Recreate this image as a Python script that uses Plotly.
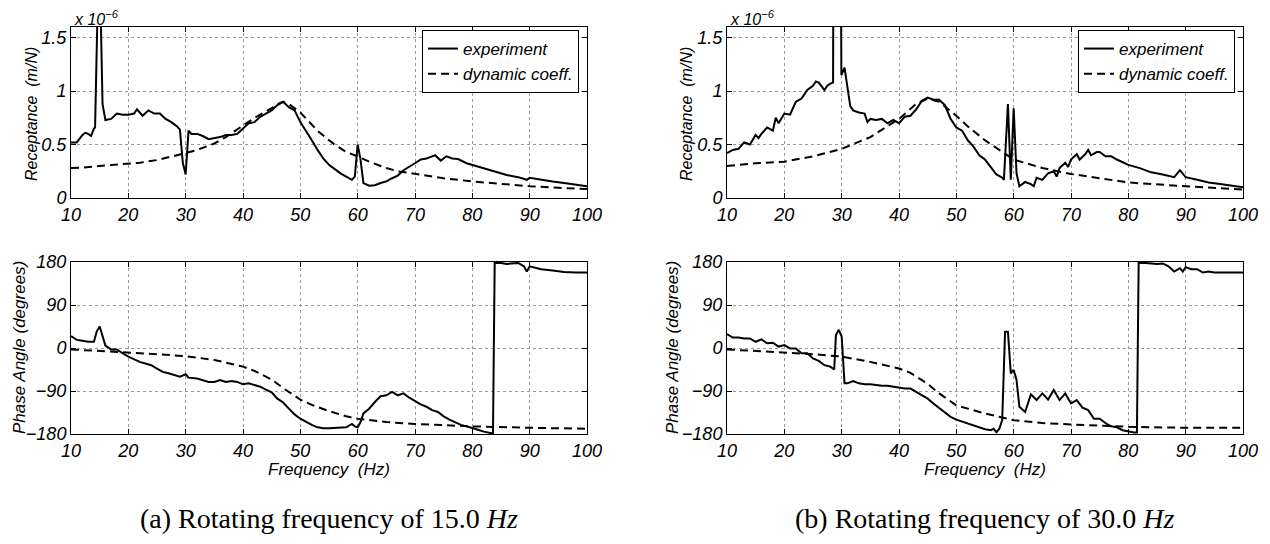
import plotly.graph_objects as go

# ---------------- (a) rotating frequency 15 Hz ----------------
fa_rec_exp = [10, 11, 12, 12.5, 13, 13.5, 14, 14.2, 14.8, 15.0, 15.5, 16, 17, 18, 19, 20, 21, 21.5, 22.5, 23.5,
              24.5, 25.5, 26.5, 27.5, 28.5, 29, 29.5, 30, 30.5, 31, 32, 33, 34, 35, 36, 37, 38, 39, 40, 41,
              42, 43, 44, 45, 46, 47, 48, 49, 50, 51, 52, 53, 54, 55, 57, 58, 59, 59.5, 60, 60.5,
              61, 62, 63, 64, 65, 66, 67, 68, 69, 70, 71, 72, 73, 73.5, 74.5, 75.5, 76.5, 77.5, 79, 80,
              82, 84, 86, 88, 89.5, 90, 92, 94, 96, 98, 100]
rec_a_exp = [0.52, 0.52, 0.59, 0.61, 0.60, 0.58, 0.65, 0.66, 2.2, 2.2, 0.88, 0.73, 0.74, 0.79, 0.78, 0.78, 0.79, 0.83, 0.77, 0.82,
             0.79, 0.79, 0.74, 0.71, 0.67, 0.64, 0.33, 0.22, 0.63, 0.60, 0.60, 0.58, 0.55, 0.56, 0.57, 0.59, 0.59, 0.60, 0.65, 0.70,
             0.71, 0.76, 0.79, 0.82, 0.87, 0.90, 0.85, 0.82, 0.71, 0.63, 0.54, 0.45, 0.37, 0.31, 0.23, 0.20, 0.17, 0.20, 0.50, 0.36,
             0.14, 0.115, 0.12, 0.14, 0.155, 0.185, 0.21, 0.26, 0.29, 0.325, 0.36, 0.37, 0.39, 0.40, 0.35, 0.39, 0.37, 0.365, 0.325, 0.31,
             0.28, 0.25, 0.215, 0.195, 0.17, 0.19, 0.17, 0.155, 0.14, 0.125, 0.11]

fa_rec_dyn = [10, 12, 15, 18, 20, 22, 25, 27, 30, 32, 35, 37, 40, 42, 45, 46, 47, 48, 50, 52, 53, 55, 56, 58,
              60, 62, 65, 67, 70, 75, 80, 85, 90, 95, 100]
rec_a_dyn = [0.28, 0.285, 0.30, 0.315, 0.325, 0.33, 0.355, 0.38, 0.42, 0.45, 0.51, 0.57, 0.68, 0.75, 0.84, 0.88, 0.90, 0.88,
             0.80, 0.68, 0.63, 0.54, 0.50, 0.43, 0.39, 0.34, 0.28, 0.25, 0.225, 0.185, 0.155, 0.13, 0.11, 0.095, 0.085]

fa_ph_exp = [10, 11, 12, 13, 14, 14.5, 15, 15.5, 16, 17, 18, 19, 20, 22, 24, 25, 26, 27, 28, 29,
             30, 30.5, 32, 33, 34, 35, 36, 37, 38, 39, 40, 41, 42, 43, 44, 45, 46, 47, 48, 49,
             50, 51, 52, 53, 54, 55, 57, 58, 59, 59.5, 60, 60.5, 61, 62, 63, 64, 65, 66, 67, 68,
             69, 70, 71, 72, 73, 74, 75, 76, 77, 78, 79, 80, 81, 82, 83, 83.6, 83.9, 85, 86, 88,
             89, 89.5, 90, 92, 94, 96, 98, 100]
ph_a_exp = [25, 17, 15, 13, 13, 35, 45, 25, 5, -3, -3, -11, -18, -29, -36, -43, -50, -53, -57, -60,
            -55, -62, -64, -67, -71, -71, -67, -71, -69, -71, -76, -74, -78, -81, -87, -93, -106, -114, -127, -139,
            -148, -155, -161, -166, -168, -168, -167, -166, -159, -164, -166, -155, -137, -127, -113, -101, -99, -92, -99, -95,
            -104, -111, -118, -123, -130, -134, -143, -150, -155, -161, -164, -167, -171, -175, -178, -179, 178, 178, 176, 178,
            171, 160, 171, 165, 162, 159, 158, 158]

fa_ph_dyn = [10, 15, 20, 25, 30, 35, 40, 42, 45, 47, 50, 52, 55, 58, 60, 65, 70, 80, 90, 100]
ph_a_dyn = [-3, -6, -10, -13, -17, -25, -39, -48, -66, -84, -108, -119, -132, -143, -148, -155, -159, -164, -167, -169]

# ---------------- (b) rotating frequency 30 Hz ----------------
fb_rec_exp = [10, 11, 12, 13, 14, 15, 15.5, 16, 17, 18, 18.5, 19, 20, 21, 22, 23, 24, 25, 25.5, 26,
              27, 27.5, 28, 28.5, 28.6, 29.8, 29.95, 30.5, 31, 31.5, 32, 33, 34, 34.5, 35, 36, 37, 38, 39, 40,
              41, 42, 43, 44, 45, 46, 47, 48, 49, 50, 51, 52, 53, 54, 55, 56, 57, 58, 58.3, 59,
              59.5, 60, 60.5, 61, 62, 63, 63.5, 64, 65, 66, 67, 67.5, 68, 69, 69.5, 70, 71, 71.5, 72.5, 73,
              73.5, 74.5, 75, 76, 77, 78, 80, 82, 84, 86, 88, 89, 90, 92, 94, 96, 98, 100]
rec_b_exp = [0.42, 0.45, 0.46, 0.52, 0.50, 0.59, 0.56, 0.60, 0.66, 0.63, 0.75, 0.70, 0.79, 0.78, 0.90, 0.93, 1.01, 1.05, 1.09, 1.08,
             1.01, 1.05, 1.07, 1.08, 3.0, 3.0, 1.15, 1.22, 1.04, 0.86, 0.82, 0.80, 0.79, 0.71, 0.74, 0.73, 0.74, 0.70, 0.73, 0.70,
             0.76, 0.77, 0.83, 0.91, 0.94, 0.92, 0.92, 0.87, 0.74, 0.66, 0.63, 0.54, 0.48, 0.40, 0.36, 0.29, 0.22, 0.19, 0.17, 0.88,
             0.17, 0.84, 0.23, 0.11, 0.15, 0.13, 0.11, 0.19, 0.17, 0.23, 0.25, 0.20, 0.28, 0.33, 0.29, 0.36, 0.41, 0.36, 0.41, 0.45,
             0.40, 0.43, 0.43, 0.39, 0.39, 0.36, 0.31, 0.28, 0.24, 0.22, 0.195, 0.26, 0.195, 0.17, 0.145, 0.13, 0.115, 0.10]

fb_rec_dyn = [10, 15, 20, 25, 30, 35, 40, 43, 45, 47, 50, 52, 55, 58, 60, 65, 70, 75, 80, 90, 100]
rec_b_dyn = [0.30, 0.325, 0.34, 0.39, 0.46, 0.57, 0.74, 0.88, 0.93, 0.90, 0.77, 0.67, 0.54, 0.43, 0.36, 0.28, 0.225, 0.185,
             0.145, 0.11, 0.08]

fb_ph_exp = [10, 11, 12, 13, 14, 15, 16, 17, 18, 19, 20, 21, 22, 23, 24, 25, 26, 27, 28, 28.7,
             29, 29.5, 30, 30.5, 31, 32, 33, 34, 35, 36, 37, 38, 39, 40, 41, 42, 43, 44, 45, 46,
             47, 48, 49, 50, 51, 52, 53, 54, 55, 56, 56.5, 57, 57.5, 58, 58.5, 59, 59.5, 60, 60.5, 61,
             62, 63, 64, 65, 66, 67, 68, 69, 70, 71, 72, 73, 74, 75, 76, 77, 78, 79, 80, 81,
             81.5, 81.8, 83, 85, 86, 87, 88, 89, 89.5, 90, 91, 92, 93, 94, 95, 96, 98, 100]
ph_b_exp = [29, 22, 22, 20, 20, 13, 18, 10, 11, 3, 6, -1, -1, -11, -11, -22, -27, -36, -39, -45,
            27, 38, 24, -74, -74, -69, -74, -76, -76, -78, -79, -79, -81, -83, -85, -85, -92, -99, -106, -116,
            -125, -134, -144, -150, -154, -158, -162, -166, -170, -172, -169, -176, -169, -151, 34, 34, -53, -46, -67, -123,
            -134, -97, -109, -95, -108, -88, -109, -95, -116, -109, -125, -130, -148, -148, -157, -164, -166, -172, -175, -177,
            -177, 178, 178, 176, 177, 171, 160, 167, 160, 169, 165, 165, 158, 160, 158, 158, 158, 158]

fb_ph_dyn = [10, 15, 20, 25, 30, 35, 40, 42, 45, 47, 50, 55, 60, 65, 70, 80, 90, 100]
ph_b_dyn = [-3, -6, -10, -13, -18, -29, -43, -52, -75, -95, -120, -137, -151, -157, -160, -165, -167, -167]

x_ticks = [10, 20, 30, 40, 50, 60, 70, 80, 90, 100]
rec_ticks = [0, 0.5, 1, 1.5]
rec_ticktext = ["0", "0.5", "1", "1.5"]
ph_ticks = [-180, -90, 0, 90, 180]
ph_ticktext = ["\u2212180", "\u221290", "0", "90", "180"]

for a, b in [(fa_rec_exp, rec_a_exp), (fa_rec_dyn, rec_a_dyn), (fa_ph_exp, ph_a_exp), (fa_ph_dyn, ph_a_dyn),
             (fb_rec_exp, rec_b_exp), (fb_rec_dyn, rec_b_dyn), (fb_ph_exp, ph_b_exp), (fb_ph_dyn, ph_b_dyn)]:
    assert len(a) == len(b), (len(a), len(b))

# The page body has an 8px default margin; size the figure so it fills the window.
OFF = 8
FW, FH = 1270 - OFF, 544 - OFF


def px(x):
    return (x - OFF) / FW


def py(y):
    return 1 - (y - OFF) / FH


FONT = "Liberation Sans, Arial, Helvetica, sans-serif"
SOLID = dict(color="black", width=2)
DASH = dict(color="black", width=2, dash="8px,5px")

fig = go.Figure()
fig.add_trace(go.Scatter(x=fa_rec_exp, y=rec_a_exp, mode="lines", line=SOLID, name="experiment",
                         xaxis="x", yaxis="y", legend="legend"))
fig.add_trace(go.Scatter(x=fa_rec_dyn, y=rec_a_dyn, mode="lines", line=DASH, name="dynamic coeff.",
                         xaxis="x", yaxis="y", legend="legend"))
fig.add_trace(go.Scatter(x=fa_ph_exp, y=ph_a_exp, mode="lines", line=SOLID, showlegend=False,
                         xaxis="x2", yaxis="y2"))
fig.add_trace(go.Scatter(x=fa_ph_dyn, y=ph_a_dyn, mode="lines", line=DASH, showlegend=False,
                         xaxis="x2", yaxis="y2"))
fig.add_trace(go.Scatter(x=fb_rec_exp, y=rec_b_exp, mode="lines", line=SOLID, name="experiment",
                         xaxis="x3", yaxis="y3", legend="legend2"))
fig.add_trace(go.Scatter(x=fb_rec_dyn, y=rec_b_dyn, mode="lines", line=DASH, name="dynamic coeff.",
                         xaxis="x3", yaxis="y3", legend="legend2"))
fig.add_trace(go.Scatter(x=fb_ph_exp, y=ph_b_exp, mode="lines", line=SOLID, showlegend=False,
                         xaxis="x4", yaxis="y4"))
fig.add_trace(go.Scatter(x=fb_ph_dyn, y=ph_b_dyn, mode="lines", line=DASH, showlegend=False,
                         xaxis="x4", yaxis="y4"))

left = [px(71), px(587)]
right = [px(727), px(1243)]
top = [py(198), py(27)]
bottom = [py(434), py(262)]

tickfont = dict(family=FONT, size=18, color="black", style="italic")


def xax(domain, anchor):
    return dict(domain=domain, anchor=anchor, range=[10, 100], tickvals=x_ticks,
                showline=True, linecolor="black", linewidth=1, mirror="ticks",
                ticks="inside", ticklen=5, tickcolor="black",
                showgrid=True, gridcolor="#9a9a9a", griddash="dot", gridwidth=1,
                zeroline=False, tickfont=tickfont, fixedrange=True, automargin=False)


def yax(domain, anchor, rng, tv, tt):
    return dict(domain=domain, anchor=anchor, range=rng, tickvals=tv, ticktext=tt,
                showline=True, linecolor="black", linewidth=1, mirror="ticks",
                ticks="inside", ticklen=5, tickcolor="black",
                showgrid=True, gridcolor="#9a9a9a", griddash="dot", gridwidth=1,
                zeroline=False, tickfont=tickfont, fixedrange=True, automargin=False)


legend_common = dict(xanchor="right", yanchor="top", bordercolor="black", borderwidth=1,
                     bgcolor="white", font=dict(family=FONT, size=17, color="black", style="italic"),
                     tracegroupgap=0, itemwidth=30)

lab_font = dict(family=FONT, size=16, color="black", style="italic")
ph_font = dict(family=FONT, size=17, color="black", style="italic")
ann_font = dict(family=FONT, size=17, color="black", style="italic")
sci_font = dict(family=FONT, size=16, color="black", style="italic")
annotations = []
for cx, lab_x_rec, lab_x_ph, xl, cap in [
        (329, 32, 19, 72, "(a) Rotating frequency of 15.0 <i>Hz</i>"),
        (985, 687, 672, 728, "(b) Rotating frequency of 30.0 <i>Hz</i>")]:
    annotations += [
        dict(x=px(lab_x_rec), y=py(114), xref="paper", yref="paper", text="Receptance  (m/N)",
             textangle=-90, showarrow=False, font=lab_font, xanchor="center", yanchor="middle"),
        dict(x=px(lab_x_ph), y=py(348), xref="paper", yref="paper", text="Phase Angle (degrees)",
             textangle=-90, showarrow=False, font=ph_font, xanchor="center", yanchor="middle"),
        dict(x=px(xl), y=py(18), xref="paper", yref="paper", text="x 10<sup>\u22126</sup>",
             showarrow=False, font=sci_font, xanchor="left", yanchor="middle"),
        dict(x=px(cx), y=py(469), xref="paper", yref="paper", text="Frequency  (Hz)",
             showarrow=False, font=ann_font, xanchor="center", yanchor="middle"),
        dict(x=px(cx), y=py(518), xref="paper", yref="paper", text=cap,
             showarrow=False, font=dict(family="Liberation Serif, Times New Roman, serif", size=28,
                                        color="black", style="normal"),
             xanchor="center", yanchor="middle"),
    ]

fig.update_layout(
    width=FW, height=FH, margin=dict(l=0, r=0, t=0, b=0, pad=0, autoexpand=False),
    paper_bgcolor="white", plot_bgcolor="white",
    font=dict(family=FONT, size=17, color="black"),
    xaxis=xax(left, "y"), yaxis=yax(top, "x", [0, 1.6], rec_ticks, rec_ticktext),
    xaxis2=xax(left, "y2"), yaxis2=yax(bottom, "x2", [-180, 180], ph_ticks, ph_ticktext),
    xaxis3=xax(right, "y3"), yaxis3=yax(top, "x3", [0, 1.6], rec_ticks, rec_ticktext),
    xaxis4=xax(right, "y4"), yaxis4=yax(bottom, "x4", [-180, 180], ph_ticks, ph_ticktext),
    legend=dict(x=px(579), y=py(30), **legend_common),
    legend2=dict(x=px(1235), y=py(30), **legend_common),
    annotations=annotations,
    showlegend=True,
)

fig.write_html("out.html")
